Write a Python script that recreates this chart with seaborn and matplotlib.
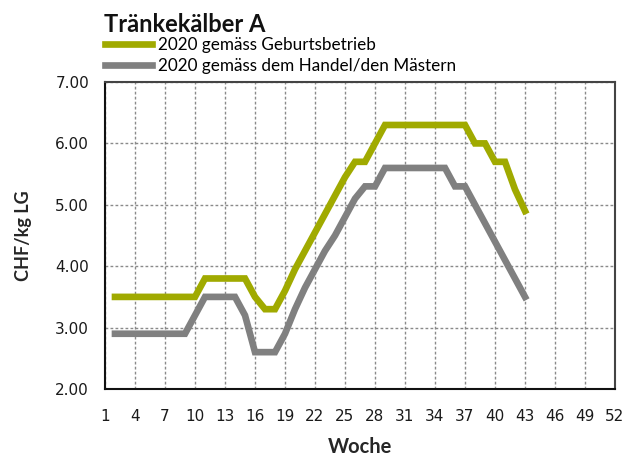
import matplotlib
matplotlib.use("Agg")
import matplotlib.pyplot as plt
import seaborn as sns
import pandas as pd
import numpy as np

# ---- data ----
weeks = list(range(2, 44))
geburtsbetrieb = [3.5, 3.5, 3.5, 3.5, 3.5, 3.5, 3.5, 3.5, 3.5,
                  3.8, 3.8, 3.8, 3.8, 3.8,
                  3.5, 3.3, 3.3,
                  3.6, 3.95, 4.25, 4.55, 4.85, 5.15, 5.45, 5.7, 5.7, 6.0,
                  6.3, 6.3, 6.3, 6.3, 6.3, 6.3, 6.3, 6.3, 6.3,
                  6.0, 6.0, 5.7, 5.7, 5.25, 4.9]
handel = [2.9, 2.9, 2.9, 2.9, 2.9, 2.9, 2.9, 2.9,
          3.2,
          3.5, 3.5, 3.5, 3.5,
          3.2,
          2.6, 2.6, 2.6,
          2.9, 3.3, 3.65, 3.95, 4.25, 4.5, 4.8, 5.1, 5.3, 5.3,
          5.6, 5.6, 5.6, 5.6, 5.6, 5.6, 5.6,
          5.3, 5.3, 5.0, 4.7, 4.4, 4.1, 3.8, 3.5]
series_names = ["2020 gemäss Geburtsbetrieb", "2020 gemäss dem Handel/den Mästern"]
series_colors = ["#A0AA00", "#808080"]
x_ticks = list(range(1, 53, 3))
y_ticks = [2.0, 3.0, 4.0, 5.0, 6.0, 7.0]
title = "Tränkekälber A"
x_label = "Woche"
y_label = "CHF/kg LG"

df = pd.DataFrame({
    "Woche": weeks * 2,
    "Preis": geburtsbetrieb + handel,
    "Serie": [series_names[0]] * len(weeks) + [series_names[1]] * len(weeks),
})

sns.set_style("white")
plt.rcParams["font.family"] = ["DejaVu Sans"]

fig = plt.figure(figsize=(6.38, 4.58), dpi=100)
ax = fig.add_axes([105 / 638, 1 - 389 / 458, 510 / 638, 307 / 458])

sns.lineplot(data=df, x="Woche", y="Preis", hue="Serie", hue_order=series_names,
             palette=series_colors, linewidth=4.8, legend=False, ax=ax, sort=False)
for ln in ax.get_lines():
    ln.set_solid_capstyle("projecting")
    ln.set_solid_joinstyle("miter")

ax.set_xlim(1, 52)
ax.set_ylim(2, 7)
ax.set_xticks(x_ticks)
ax.set_yticks(y_ticks)
ax.set_yticklabels([f"{v:.2f}" for v in y_ticks])
ax.grid(True, color="#8a8a8a", linestyle=(0, (2, 1.6)), linewidth=1.0)
ax.set_axisbelow(True)

ax.tick_params(axis="both", which="major", direction="out", length=7.5, width=1.3,
               color="#111111", labelsize=11, labelcolor="#1a1a1a", pad=4)
ax.tick_params(axis="x", pad=7)

for side in ["left", "bottom"]:
    ax.spines[side].set_color("#111111")
    ax.spines[side].set_linewidth(1.5)
for side in ["top", "right"]:
    ax.spines[side].set_color("#444444")
    ax.spines[side].set_linewidth(1.5)
    ax.spines[side].set_visible(True)

ax.set_xlabel(x_label, fontsize=14.5, fontweight="bold", family="Lato", labelpad=9)
ax.set_ylabel(y_label, fontsize=13, fontweight="bold", family="Lato", labelpad=17)

fig.text(104 / 638, 1 - 24 / 458, title, fontsize=17, fontweight="bold",
         family="Lato", ha="left", va="center", color="#111111")

handles = ax.get_lines()[:2]
leg = fig.legend(handles, series_names, loc="upper left",
                 bbox_to_anchor=(105 / 638, 1 - 37 / 458), frameon=False,
                 prop={"family": "Lato", "size": 12.3}, handlelength=2.75,
                 handletextpad=0.35, labelspacing=0.3, borderpad=0, borderaxespad=0)
for t in leg.get_texts():
    t.set_color("#000000")

fig.savefig("out.png", dpi=100, facecolor="white")
